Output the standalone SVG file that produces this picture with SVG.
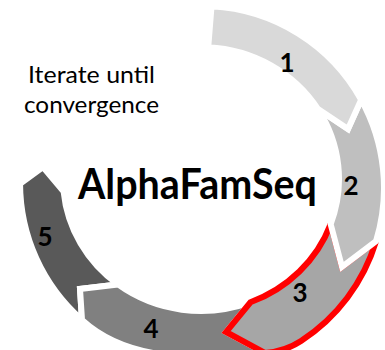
<svg xmlns="http://www.w3.org/2000/svg" width="385" height="350" viewBox="0 0 385 350">
  <style>
    .seg { stroke: #ffffff; stroke-width: 6; stroke-linejoin: miter; }
    .num { font-family: Lato, "Liberation Sans", sans-serif; font-weight: bold; font-size: 26px; fill: #000; text-anchor: middle; }
    .note { font-family: Lato, "Liberation Sans", sans-serif; font-size: 23px; fill: #000; }
    .title { font-family: Lato, "Liberation Sans", sans-serif; font-weight: bold; font-size: 42px; fill: #000; }
  </style>
  <rect width="385" height="350" fill="#ffffff"/>
  <g id="connectors"/>
  <g id="node5">
    <path class="seg" fill="#595959" d="M82,320 A182,182 0 0 1 20.05,183.87 L43,167 L63.63,191.65 A138,132 0 0 0 117.95,284.42 L80,289 Z"/>
    <text class="num" x="45" y="246">5</text>
  </g>
  <g id="node4">
    <path class="seg" fill="#808080" d="M265,353 C227.8,356 189.7,359.6 153,353 C127.4,348.4 101.2,337.5 82,320 L80,289 L117.95,284.42 A138,132 0 0 0 250.45,302.23 L226,332 Z"/>
    <text class="num" x="151" y="338">4</text>
  </g>
  <g id="node3">
    <path fill="#a6a6a6" stroke="#ff0000" stroke-width="6" stroke-miterlimit="3" d="M376.05,241.21 A182,182 0 0 1 301,341 C290.4,347.9 277.6,352 265,353 L226,332 L250.45,302.23 A138,132 0 0 0 330.68,224.15 L342,267 Z"/>
    <text class="num" x="300" y="302">3</text>
  </g>
  <g id="node2">
    <path class="seg" fill="#bfbfbf" d="M361.18,99.76 A182,182 0 0 1 376.05,241.21 L342,267 L330.68,224.15 A138,132 0 0 0 318.03,109.05 L348,129 Z"/>
    <text class="num" x="351" y="195">2</text>
  </g>
  <g id="node1">
    <path class="seg" fill="#d9d9d9" d="M211.53,6.25 A182,182 0 0 1 361.18,99.76 L348,129 L318.03,109.05 A138,132 0 0 0 208.22,47.18 Z"/>
    <text class="num" x="287" y="72">1</text>
  </g>
  <g id="label">
    <text class="note" x="28" y="83" textLength="127" lengthAdjust="spacingAndGlyphs">Iterate until</text>
    <text class="note" x="24" y="113" textLength="135" lengthAdjust="spacingAndGlyphs">convergence</text>
  </g>
  <g id="center">
    <text class="title" x="78" y="199" textLength="239" lengthAdjust="spacingAndGlyphs">AlphaFamSeq</text>
  </g>
</svg>
